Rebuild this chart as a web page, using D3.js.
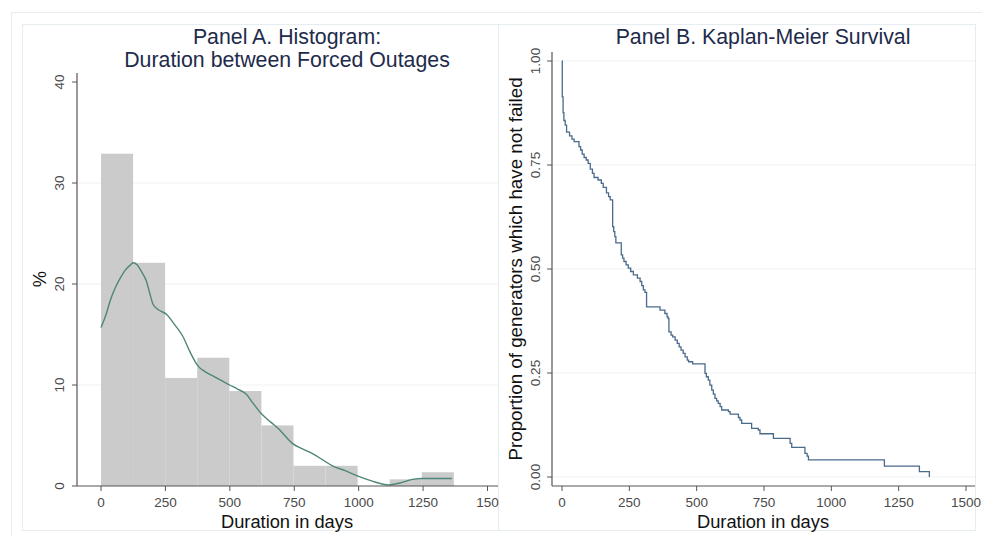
<!DOCTYPE html>
<html><head><meta charset="utf-8">
<script src="https://cdn.jsdelivr.net/npm/d3@7"></script>
<style>
html,body{margin:0;padding:0;background:#fff;}
svg{display:block;font-family:"Liberation Sans",Arial,sans-serif;}
</style></head>
<body>
<svg id="chart" width="982" height="536"></svg>
<script>
// ---------- Data ----------
// Panel A: histogram (bin width in days, percent per bin)
const binWidth = 124.5;
const histPercent = [32.9, 22.1, 10.7, 12.7, 9.4, 6.0, 2.0, 2.0, 0.0, 0.66, 1.36];
// Kernel density overlay (days, percent)
const densDays = [0,20,35,55,73,95,115,125,140,160,176,190,202,220,254,285,318,345,376,405,434,470,499,530,563,590,621,660,692,720,744,780,821,860,898,950,995,1050,1117,1160,1208,1250,1362];
const densPct  = [15.7,17.0,18.3,19.6,20.5,21.4,21.9,22.1,21.9,21.1,20.3,19.0,18.0,17.5,17.0,16.0,14.8,13.3,11.9,11.3,10.9,10.4,10.0,9.6,9.1,8.2,7.2,6.3,5.6,4.8,4.2,3.7,3.2,2.6,2.0,1.5,1.0,0.5,0.1,0.3,0.65,0.75,0.75];
const histXTicks = [0,250,500,750,1000,1250,1500];
const histXTickLabels = ["0","250","500","750","1000","1250","150"];
const histYTicks = [0,10,20,30,40];

// Panel B: Kaplan-Meier survival (event time in days, survival after event)
const kmDays = [0,1,4,7,12,17,28,37,45,63,69,75,82,90,97,105,113,119,134,146,153,165,173,179,188,192,196,200,220,225,230,238,246,255,265,280,290,296,302,308,314,364,382,390,394,397,405,411,420,428,435,442,450,457,465,470,485,531,536,543,549,556,562,568,574,580,587,593,618,624,655,661,667,704,729,735,785,847,853,902,910,915,1197,1327,1364];
const kmSurv = [1.0,0.914,0.876,0.857,0.846,0.829,0.820,0.812,0.806,0.794,0.786,0.776,0.768,0.762,0.754,0.740,0.730,0.720,0.714,0.706,0.696,0.683,0.674,0.666,0.602,0.590,0.578,0.563,0.534,0.526,0.518,0.510,0.502,0.494,0.486,0.478,0.470,0.460,0.450,0.444,0.409,0.401,0.393,0.385,0.381,0.349,0.341,0.337,0.329,0.321,0.313,0.305,0.297,0.289,0.281,0.277,0.272,0.249,0.241,0.233,0.221,0.209,0.199,0.189,0.183,0.177,0.169,0.161,0.157,0.151,0.143,0.137,0.129,0.117,0.113,0.104,0.093,0.081,0.071,0.057,0.050,0.041,0.026,0.013,0.0];
const kmXTicks = [0,250,500,750,1000,1250,1500];
const kmYTicks = [0,0.25,0.5,0.75,1.0];

// ---------- Drawing ----------
const svg = d3.select("#chart");
const frameCol = "#e6edf0", gridCol = "#eef2f4", axisCol = "#555", tickTxt = "#4a4a4a", titleCol = "#1e2b4b";
const tickFs = 13.5, axTitleFs = 18.3, titleFs = 21.3;

// frames
svg.append("rect").attr("x",11.5).attr("y",12.5).attr("width",975).attr("height",530).attr("fill","none").attr("stroke",frameCol);
svg.append("rect").attr("x",22.5).attr("y",24.5).attr("width",476).attr("height",506).attr("fill","none").attr("stroke",frameCol);
svg.append("rect").attr("x",498.5).attr("y",24.5).attr("width",477).attr("height",506).attr("fill","none").attr("stroke",frameCol);

// ===== Panel A =====
const xA = d3.scaleLinear().domain([0,1500]).range([101,487.5]);
const yA = d3.scaleLinear().domain([0,40]).range([486,82]);
const gA = svg.append("g");

gA.selectAll("line.grid").data(histYTicks.filter(d=>d>0 && d<40)).join("line")
  .attr("x1",77).attr("x2",498).attr("y1",d=>yA(d)).attr("y2",d=>yA(d))
  .attr("stroke",gridCol).attr("stroke-width",1.2);

gA.selectAll("rect.bar").data(histPercent).join("rect")
  .attr("x",(d,i)=>xA(i*binWidth)).attr("width",(d,i)=>xA((i+1)*binWidth)-xA(i*binWidth))
  .attr("y",d=>yA(d)).attr("height",d=>yA(0)-yA(d))
  .attr("fill","#cbcbcb");

const dens = densDays.map((d,i)=>[d,densPct[i]]);
gA.append("path").datum(dens)
  .attr("d",d3.line().x(d=>xA(d[0])).y(d=>yA(d[1])).curve(d3.curveMonotoneX))
  .attr("fill","none").attr("stroke","#4e8679").attr("stroke-width",1.4);

const axA_x = gA.append("g").attr("transform","translate(0,486)");
axA_x.append("line").attr("x1",77).attr("x2",498).attr("stroke",axisCol).attr("stroke-width",1.2);
axA_x.selectAll("line.t").data(histXTicks).join("line").attr("class","t")
  .attr("x1",d=>xA(d)).attr("x2",d=>xA(d)).attr("y1",0).attr("y2",5).attr("stroke",axisCol);
axA_x.selectAll("text").data(histXTicks).join("text")
  .attr("x",d=>xA(d)).attr("y",21).attr("text-anchor","middle")
  .attr("font-size",tickFs).attr("fill",tickTxt).text((d,i)=>histXTickLabels[i]);

const axA_y = gA.append("g");
axA_y.append("line").attr("x1",77).attr("x2",77).attr("y1",73).attr("y2",486).attr("stroke",axisCol).attr("stroke-width",1.2);
axA_y.selectAll("line.t").data(histYTicks).join("line").attr("class","t")
  .attr("x1",72).attr("x2",77).attr("y1",d=>yA(d)).attr("y2",d=>yA(d)).attr("stroke",axisCol);
axA_y.selectAll("text").data(histYTicks).join("text")
  .attr("transform",d=>`translate(64,${yA(d)}) rotate(-90)`).attr("text-anchor","middle")
  .attr("font-size",tickFs).attr("fill",tickTxt).text(d=>d);

gA.append("text").attr("x",287).attr("y",44).attr("text-anchor","middle").attr("font-size",titleFs).attr("fill",titleCol).text("Panel A. Histogram:");
gA.append("text").attr("x",287).attr("y",67).attr("text-anchor","middle").attr("font-size",titleFs).attr("fill",titleCol).text("Duration between Forced Outages");
gA.append("text").attr("x",287).attr("y",528).attr("text-anchor","middle").attr("font-size",axTitleFs).attr("fill","#111").text("Duration in days");
gA.append("text").attr("transform","translate(46,279) rotate(-90)").attr("text-anchor","middle").attr("font-size",axTitleFs).attr("fill","#111").text("%");

// ===== Panel B =====
const xB = d3.scaleLinear().domain([0,1500]).range([562,966]);
const yB = d3.scaleLinear().domain([0,1]).range([477,61]);
const gB = svg.append("g");

gB.selectAll("line.grid").data(kmYTicks).join("line")
  .attr("x1",552).attr("x2",975).attr("y1",d=>yB(d)).attr("y2",d=>yB(d))
  .attr("stroke",gridCol).attr("stroke-width",1.2);

const km = kmDays.map((d,i)=>[d,kmSurv[i]]);
gB.append("path").datum(km)
  .attr("d",d3.line().x(d=>xB(d[0])).y(d=>yB(d[1])).curve(d3.curveStepAfter))
  .attr("fill","none").attr("stroke","#4a6a8c").attr("stroke-width",1.3);

const axB_x = gB.append("g").attr("transform","translate(0,486)");
axB_x.append("line").attr("x1",552).attr("x2",975).attr("stroke",axisCol).attr("stroke-width",1.2);
axB_x.selectAll("line.t").data(kmXTicks).join("line").attr("class","t")
  .attr("x1",d=>xB(d)).attr("x2",d=>xB(d)).attr("y1",0).attr("y2",5).attr("stroke",axisCol);
axB_x.selectAll("text").data(kmXTicks).join("text")
  .attr("x",d=>xB(d)).attr("y",21).attr("text-anchor","middle")
  .attr("font-size",tickFs).attr("fill",tickTxt).text(d=>d);

const axB_y = gB.append("g");
axB_y.append("line").attr("x1",552).attr("x2",552).attr("y1",52).attr("y2",486).attr("stroke",axisCol).attr("stroke-width",1.2);
axB_y.selectAll("line.t").data(kmYTicks).join("line").attr("class","t")
  .attr("x1",547).attr("x2",552).attr("y1",d=>yB(d)).attr("y2",d=>yB(d)).attr("stroke",axisCol);
axB_y.selectAll("text").data(kmYTicks).join("text")
  .attr("transform",d=>`translate(540,${yB(d)}) rotate(-90)`).attr("text-anchor","middle")
  .attr("font-size",tickFs).attr("fill",tickTxt).text(d=>d3.format(".2f")(d));

gB.append("text").attr("x",763).attr("y",44).attr("text-anchor","middle").attr("font-size",titleFs).attr("fill",titleCol).text("Panel B. Kaplan-Meier Survival");
gB.append("text").attr("x",763).attr("y",528).attr("text-anchor","middle").attr("font-size",axTitleFs).attr("fill","#111").text("Duration in days");
gB.append("text").attr("transform","translate(522,269) rotate(-90)").attr("text-anchor","middle").attr("font-size",18.8).attr("fill","#111").text("Proportion of generators which have not failed");
</script>
</body></html>
